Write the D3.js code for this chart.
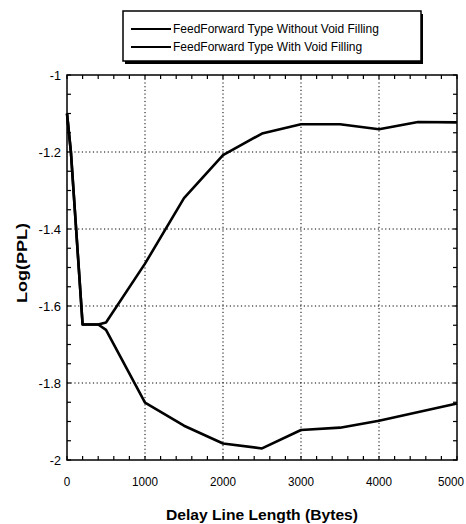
<!DOCTYPE html>
<html lang="en">
<head>
    <meta charset="UTF-8">
    <title>Log(PPL) vs Delay Line Length</title>
    <script src="https://d3js.org/d3.v7.min.js"></script>
    <style>
        body { margin: 0; background: #fff; }
        .tick-label { font: 13px "Liberation Sans Narrow", "Arial Narrow", "Liberation Sans", sans-serif; fill: #000; }
        .axis-title { font: bold 15px "Liberation Sans", Arial, sans-serif; fill: #000; }
        .legend text { font: 12px "Liberation Sans Narrow", "Arial Narrow", "Liberation Sans", sans-serif; fill: #000; }
        .grid { stroke: #000; stroke-width: 1; stroke-dasharray: 1.2 2.5; }
        .series { fill: none; stroke: #000; stroke-width: 2.6; stroke-linejoin: round; }
    </style>
</head>
<body>
<div id="chart"></div>
<script>
    // delay line length (bytes)
    var delayWithout = [0, 50, 200, 400, 500, 1000, 1500, 2000, 2500, 3000, 3500, 4000, 4500, 5000];
    var pplWithout = [-1.1, -1.2, -1.648, -1.648, -1.643, -1.49, -1.32, -1.208, -1.152, -1.128, -1.128, -1.141, -1.122, -1.123];

    var delayWith = [0, 50, 200, 400, 500, 1000, 1500, 2000, 2500, 3000, 3500, 4000, 5000];
    var pplWith = [-1.1, -1.2, -1.648, -1.648, -1.662, -1.851, -1.911, -1.957, -1.97, -1.922, -1.916, -1.898, -1.853];

    var seriesNames = ["FeedForward Type Without Void Filling", "FeedForward Type With Void Filling"];
    var xTicks = [0, 1000, 2000, 3000, 4000, 5000];
    var yTicks = [-2, -1.8, -1.6, -1.4, -1.2, -1];

    var W = 466, H = 524;
    var pLeft = 67, pRight = 457, pTop = 75, pBottom = 460;

    var svg = d3.select("#chart").append("svg")
        .attr("width", W)
        .attr("height", H);

    var x = d3.scaleLinear().domain([0, 5000]).range([pLeft, pRight]);
    var y = d3.scaleLinear().domain([-2, -1]).range([pBottom, pTop]);

    // dotted grid at inner major ticks
    svg.append("g").selectAll("line")
        .data(xTicks.slice(1, -1))
        .join("line")
        .attr("class", "grid")
        .attr("x1", d => x(d)).attr("x2", d => x(d))
        .attr("y1", pTop).attr("y2", pBottom);

    svg.append("g").selectAll("line")
        .data(yTicks.slice(1, -1))
        .join("line")
        .attr("class", "grid")
        .attr("x1", pLeft).attr("x2", pRight)
        .attr("y1", d => y(d)).attr("y2", d => y(d));

    // minor ticks pointing inward on all four sides
    var xMinor = d3.range(0, 5001, 200);
    var yMinor = d3.range(0, 21).map(i => -2 + i * 0.05);
    var ticks = svg.append("g").attr("stroke", "#000").attr("stroke-width", 1.2);
    xMinor.forEach(function(v) {
        ticks.append("line").attr("x1", x(v)).attr("x2", x(v)).attr("y1", pBottom).attr("y2", pBottom - 4);
        ticks.append("line").attr("x1", x(v)).attr("x2", x(v)).attr("y1", pTop).attr("y2", pTop + 4);
    });
    yMinor.forEach(function(v) {
        ticks.append("line").attr("x1", pLeft).attr("x2", pLeft + 4).attr("y1", y(v)).attr("y2", y(v));
        ticks.append("line").attr("x1", pRight).attr("x2", pRight - 4).attr("y1", y(v)).attr("y2", y(v));
    });

    // frame
    svg.append("rect")
        .attr("x", pLeft).attr("y", pTop)
        .attr("width", pRight - pLeft).attr("height", pBottom - pTop)
        .attr("fill", "none").attr("stroke", "#000").attr("stroke-width", 1.5);

    // tick labels
    svg.append("g").selectAll("text")
        .data(xTicks)
        .join("text")
        .attr("class", "tick-label")
        .attr("x", d => x(d))
        .attr("y", pBottom + 26)
        .attr("text-anchor", "middle")
        .attr("textLength", d => String(d).length * 6.5)
        .attr("lengthAdjust", "spacingAndGlyphs")
        .attr("transform", d => d === 5000 ? "translate(-6,0)" : null)
        .text(d => d);

    svg.append("g").selectAll("text")
        .data(yTicks)
        .join("text")
        .attr("class", "tick-label")
        .attr("x", pLeft - 6)
        .attr("y", d => y(d) + 5)
        .attr("text-anchor", "end")
        .attr("textLength", d => String(d).length * 5.6)
        .attr("lengthAdjust", "spacingAndGlyphs")
        .text(d => d);

    // axis titles
    svg.append("text")
        .attr("class", "axis-title")
        .attr("x", 262).attr("y", 520)
        .attr("text-anchor", "middle")
        .attr("textLength", 192)
        .attr("lengthAdjust", "spacingAndGlyphs")
        .text("Delay Line Length (Bytes)");

    svg.append("text")
        .attr("class", "axis-title")
        .attr("transform", "translate(27,263) rotate(-90)")
        .attr("text-anchor", "middle")
        .attr("textLength", 80)
        .attr("lengthAdjust", "spacingAndGlyphs")
        .text("Log(PPL)");

    // series lines
    var line = d3.line().x(d => x(d[0])).y(d => y(d[1]));
    var seriesData = [d3.zip(delayWithout, pplWithout), d3.zip(delayWith, pplWith)];

    svg.append("g").selectAll("path")
        .data(seriesData)
        .join("path")
        .attr("class", "series")
        .attr("d", line);

    // legend
    var legend = svg.append("g").attr("class", "legend");
    legend.append("rect")
        .attr("x", 125).attr("y", 14)
        .attr("width", 298).attr("height", 50)
        .attr("fill", "#000");
    legend.append("rect")
        .attr("x", 123).attr("y", 11)
        .attr("width", 298).attr("height", 50)
        .attr("fill", "#fff").attr("stroke", "#000").attr("stroke-width", 1.5);

    var rows = legend.selectAll("g.row")
        .data(seriesNames)
        .join("g")
        .attr("class", "row")
        .attr("transform", (d, i) => "translate(0," + (29 + i * 18) + ")");
    rows.append("line")
        .attr("x1", 131).attr("x2", 171)
        .attr("stroke", "#000").attr("stroke-width", 2.2);
    rows.append("text")
        .attr("x", 173).attr("y", 4)
        .text(d => d);
</script>
</body>
</html>
